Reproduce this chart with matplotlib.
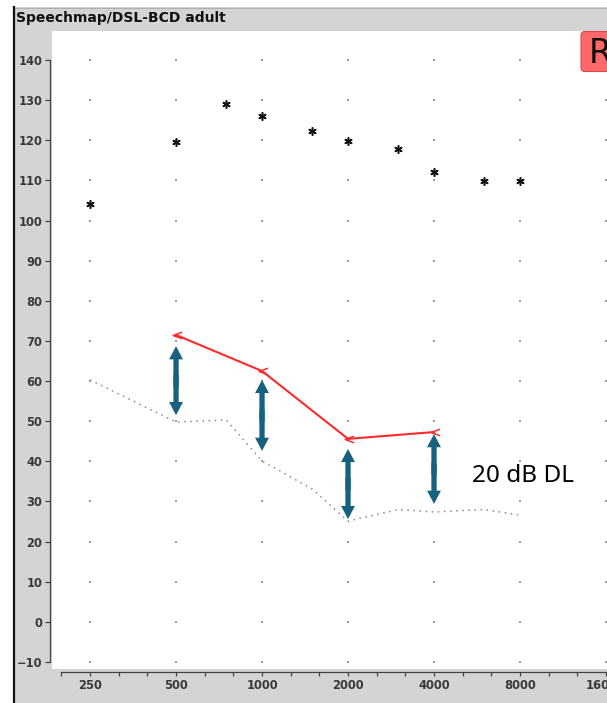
import numpy as np
import matplotlib
matplotlib.use("Agg")
import matplotlib.pyplot as plt
from matplotlib.path import Path
from matplotlib.patches import Rectangle, FancyBboxPatch
from matplotlib.lines import Line2D
from matplotlib.ticker import NullFormatter

# speechmap data (Hz / dB SPL)
target_freqs = [250, 500, 750, 1000, 1500, 2000, 3000, 4000, 6000, 8000]
target_db = [104.1, 119.6, 129.1, 126.0, 122.2, 119.9, 117.8, 112.2, 109.8, 109.8]

aided_freqs = [500, 1000, 2000, 4000]
aided_db = [71.5, 62.5, 45.6, 47.3]

thresh_freqs = [250, 500, 750, 1000, 1500, 2000, 3000, 4000, 6000, 8000]
thresh_db = [60.3, 49.8, 50.3, 40.1, 33.1, 25.1, 28.0, 27.4, 28.0, 26.6]

# dynamic-range arrows
arrow_freqs = [500, 1000, 2000, 4000]
arrow_top = [68.7, 60.3, 43.1, 46.8]
arrow_bottom = [51.5, 42.6, 25.6, 29.4]

major_freqs = [250, 500, 1000, 2000, 4000, 8000, 16000]
freq_labels = ["250", "500", "1000", "2000", "4000", "8000", "16000"]
minor_freqs = [250 * 2 ** (k / 3) for k in range(-1, 19) if k % 3 != 0]
db_ticks = list(range(-10, 141, 10))

W, H = 607, 703
fig = plt.figure(figsize=(W / 100, H / 100), dpi=100, facecolor="white")

# window chrome
gray = "#d4d4d4"
fig.add_artist(Rectangle((15 / W, 0), 1, 1 - 7 / H, transform=fig.transFigure,
                         facecolor=gray, edgecolor="none", zorder=0))
fig.add_artist(Line2D([15 / W, 1], [1 - 7.5 / H] * 2, transform=fig.transFigure,
                      color="#b0b0b0", lw=0.8))
fig.add_artist(Line2D([14 / W] * 2, [0, 1 - 7 / H], transform=fig.transFigure,
                      color="#111111", lw=1.6))
fig.text(16 / W, 1 - 22 / H, "Speechmap/DSL-BCD adult", fontsize=10,
         fontweight="bold", color="#111111", family="DejaVu Sans")

ax = fig.add_axes([52 / W, 34 / H, 555 / W, 638 / H])
ax.set_facecolor("white")
ax.set_xscale("log", base=2)
ax.set_xlim(184, 16130)
ax.set_ylim(-11.74, 147.23)

for s in ["top", "right"]:
    ax.spines[s].set_visible(False)
ax.spines["left"].set_position(("outward", 1.5))
ax.spines["left"].set_bounds(-10, 140)
ax.spines["bottom"].set_position(("outward", 2.2))
ax.spines["bottom"].set_bounds(minor_freqs[0], 17000)
for s in ["left", "bottom"]:
    ax.spines[s].set_color("#444444")
    ax.spines[s].set_linewidth(0.9)

ax.set_xticks(major_freqs)
ax.set_xticklabels(freq_labels)
ax.set_xticks(minor_freqs, minor=True)
ax.xaxis.set_minor_formatter(NullFormatter())
ax.set_yticks(db_ticks)
ax.tick_params(axis="both", which="both", colors="#444444", labelcolor="#3a3a3a",
               labelsize=8.3, width=0.9)
ax.tick_params(axis="y", length=3.6, pad=2)
ax.tick_params(axis="x", which="both", length=3, pad=2)
for lab in ax.get_xticklabels() + ax.get_yticklabels():
    lab.set_fontweight("bold")

# dotted grid points
gx, gy = np.meshgrid(major_freqs, db_ticks)
ax.scatter(gx.ravel(), gy.ravel(), s=0.8, marker="s", color="#9a9a9a",
           linewidths=0, zorder=1)

# threshold
ax.plot(thresh_freqs, thresh_db, color="#8c8c8c", lw=1.1, linestyle=(0, (1, 3)),
        zorder=2)

# target asterisks
ax.plot(target_freqs, target_db, linestyle="none", marker=(6, 2, 0),
        markersize=6, markeredgewidth=1.1, color="#111111", zorder=3)

# aided response
chevron = Path([(1, 0.6), (-0.6, 0), (1, -0.6)],
               [Path.MOVETO, Path.LINETO, Path.LINETO])
ax.plot(aided_freqs, aided_db, color="#ff2a2a", lw=1.5, marker=chevron,
        markersize=8, markerfacecolor="none", markeredgewidth=1.1, zorder=4)

# double-headed arrows: two half-arrows that overlap a little in the middle
arrow_color = "#17617f"
for f, top, bot in zip(arrow_freqs, arrow_top, arrow_bottom):
    mid = (top + bot) / 2
    for end, start in ((top, mid - 1.5), (bot, mid + 1.5)):
        ax.annotate("", xy=(f, end), xytext=(f, start),
                    arrowprops=dict(arrowstyle="simple,head_length=0.95,head_width=1.0,tail_width=0.38",
                                    mutation_scale=10, color=arrow_color,
                                    shrinkA=0, shrinkB=0, lw=0),
                    zorder=5)

ax.text(5430, 34.8, "20 dB DL", fontsize=17.5, family="Noto Sans",
        color="black", va="baseline", ha="left", zorder=6)

# red "R" button
fig.add_artist(FancyBboxPatch((581 / W, 1 - 71.5 / H), 40 / W, 40 / H,
                              boxstyle="round,pad=0,rounding_size=0.006",
                              transform=fig.transFigure, facecolor="#ff6868",
                              edgecolor="#d84848", lw=0.8, zorder=10))
fig.text(589 / W, 1 - 63 / H, "R", fontsize=24, color="#111111",
         family="DejaVu Sans", zorder=11)

fig.savefig("out.png", dpi=100, facecolor=fig.get_facecolor())
